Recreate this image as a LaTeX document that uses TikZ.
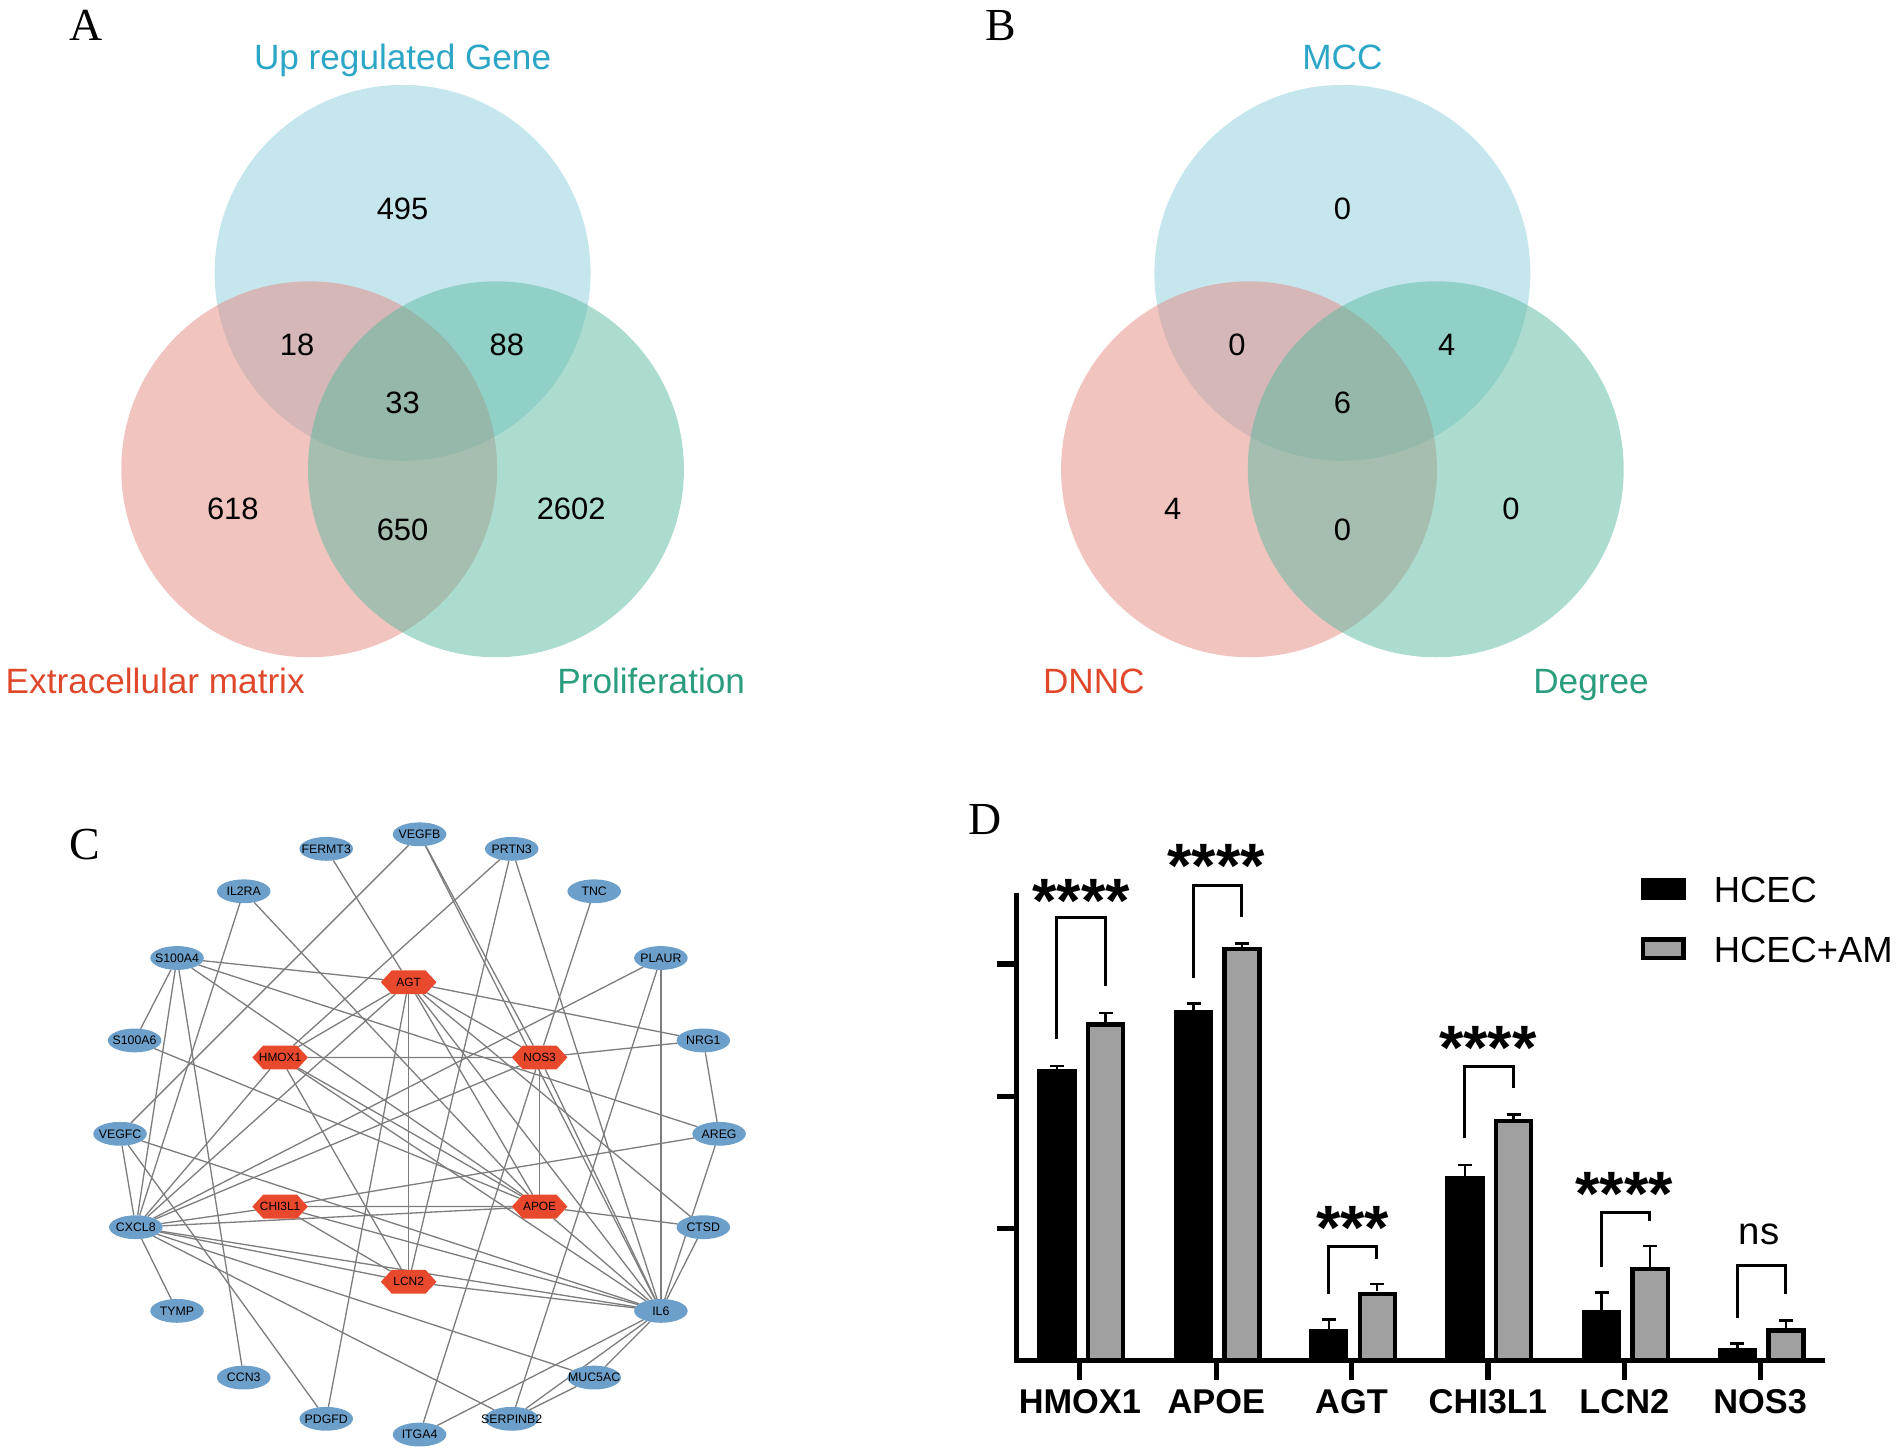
\documentclass[tikz,border=0pt]{standalone}
\usepackage{fontspec}
\setmainfont{Liberation Sans}
\newfontfamily\serifface{Liberation Serif}
\usetikzlibrary{shapes.geometric,shapes.symbols}
\pgfdeclarelayer{bg}
\pgfsetlayers{bg,main}
\definecolor{vblue}{RGB}{141,205,219}
\definecolor{vred}{RGB}{229,137,129}
\definecolor{vgreen}{RGB}{90,186,160}
\definecolor{tblue}{RGB}{44,166,198}
\definecolor{tred}{RGB}{224,72,44}
\definecolor{tgreen}{RGB}{42,157,126}
\definecolor{geneblue}{RGB}{108,160,202}
\definecolor{hubred}{RGB}{232,73,44}
\definecolor{edgegray}{RGB}{125,125,125}
\definecolor{bargray}{RGB}{160,160,160}
\newcommand{\zw}[1]{\makebox[0pt]{#1}}
\tikzset{
  panel/.style={font=\serifface\fontsize{22.7}{24}\selectfont, anchor=base, inner sep=0pt},
  vlabel/.style={font=\fontsize{17.4}{20}\selectfont, anchor=base, inner sep=0pt},
  vnum/.style={font=\fontsize{15.3}{17}\selectfont, inner sep=0pt},
  gene/.style={ellipse, fill=geneblue, minimum width=26.5pt, minimum height=11.8pt, inner sep=0pt, outer sep=0pt, font=\fontsize{6.1}{7}\selectfont},
  hub/.style={signal, signal to=west and east, signal pointer angle=95, fill=hubred, minimum width=27.5pt, minimum height=11.8pt, inner sep=0pt, outer sep=0pt, font=\fontsize{5.9}{7}\selectfont},
  edge/.style={draw=edgegray, line width=0.65pt},
  axis/.style={line width=2.6pt},
  errbar/.style={line width=1.2pt},
  bracket/.style={line width=1.5pt},
  stars/.style={font=\bfseries\fontsize{31}{32}\selectfont, anchor=base, inner sep=0pt},
  grp/.style={font=\bfseries\fontsize{17}{19}\selectfont, anchor=base, inner sep=0pt},
  legtext/.style={font=\fontsize{18}{20}\selectfont, anchor=base west, inner sep=0pt},
}
\begin{document}
\begin{tikzpicture}[x=0.6pt,y=-0.6pt]
\useasboundingbox (0,0) rectangle (1568.5,1200);

% ---------------- Panel A ----------------
\node[panel] (labA) at (71,33) {A};
\fill[vblue, fill opacity=0.5] (332,225) circle[radius=155];
\fill[vred, fill opacity=0.5] (255,387) circle[radius=155];
\fill[vgreen, fill opacity=0.5] (409,387) circle[radius=155];
\node[vlabel, text=tblue] (upA) at (332,57) {Up regulated Gene};
\node[vlabel, text=tred] (ecm) at (128,572) {Extracellular matrix};
\node[vlabel, text=tgreen] (prol) at (537,572) {Proliferation};
\node[vnum] (a1) at (332,172) {495};
\node[vnum] (a2) at (245,284) {18};
\node[vnum] (a3) at (418,284) {88};
\node[vnum] (a4) at (332,332) {33};
\node[vnum] (a5) at (192,420) {618};
\node[vnum] (a6) at (332,437) {650};
\node[vnum] (a7) at (471,420) {2602};

% ---------------- Panel B ----------------
\node[panel] (labB) at (825,33) {B};
\fill[vblue, fill opacity=0.5] (1107,225) circle[radius=155];
\fill[vred, fill opacity=0.5] (1030,387) circle[radius=155];
\fill[vgreen, fill opacity=0.5] (1184,387) circle[radius=155];
\node[vlabel, text=tblue] (mcc) at (1107,57) {MCC};
\node[vlabel, text=tred] (dnnc) at (902,572) {DNNC};
\node[vlabel, text=tgreen] (deg) at (1312,572) {Degree};
\node[vnum] (b1) at (1107,172) {0};
\node[vnum] (b2) at (1020,284) {0};
\node[vnum] (b3) at (1193,284) {4};
\node[vnum] (b4) at (1107,332) {6};
\node[vnum] (b5) at (967,420) {4};
\node[vnum] (b6) at (1107,437) {0};
\node[vnum] (b7) at (1246,420) {0};

% ---------------- Panel C ----------------
\node[panel] (labC) at (70,709) {C};
\node[gene] (VEGFB) at (346,688) {\zw{VEGFB}};
\node[gene] (FERMT3) at (269,700) {\zw{FERMT3}};
\node[gene] (PRTN3) at (422,700) {\zw{PRTN3}};
\node[gene] (IL2RA) at (201,735) {\zw{IL2RA}};
\node[gene] (TNC) at (490,735) {\zw{TNC}};
\node[gene] (S100A4) at (146,790) {\zw{S100A4}};
\node[gene] (PLAUR) at (545,790) {\zw{PLAUR}};
\node[gene] (S100A6) at (111,858) {\zw{S100A6}};
\node[gene] (NRG1) at (580,858) {\zw{NRG1}};
\node[gene] (VEGFC) at (99,935) {\zw{VEGFC}};
\node[gene] (AREG) at (593,935) {\zw{AREG}};
\node[gene] (CXCL8) at (112,1012) {\zw{CXCL8}};
\node[gene] (CTSD) at (580,1012) {\zw{CTSD}};
\node[gene] (IL6) at (545,1081) {\zw{IL6}};
\node[gene] (TYMP) at (146,1081) {\zw{TYMP}};
\node[gene] (CCN3) at (201,1136) {\zw{CCN3}};
\node[gene] (MUC5AC) at (490,1136) {\zw{MUC5AC}};
\node[gene] (PDGFD) at (269,1170) {\zw{PDGFD}};
\node[gene] (SERPINB2) at (422,1170) {\zw{SERPINB2}};
\node[gene] (ITGA4) at (346,1183) {\zw{ITGA4}};
\node[hub] (AGT) at (337,810) {\zw{AGT}};
\node[hub] (HMOX1) at (231,872) {\zw{HMOX1}};
\node[hub] (NOS3) at (445,872) {\zw{NOS3}};
\node[hub] (CHI3L1) at (231,995) {\zw{CHI3L1}};
\node[hub] (APOE) at (445,995) {\zw{APOE}};
\node[hub] (LCN2) at (337,1057) {\zw{LCN2}};
\begin{pgfonlayer}{bg}
\foreach \a/\b in {FERMT3/AGT, VEGFB/VEGFC, VEGFB/NOS3, VEGFB/IL6,
  PRTN3/HMOX1, PRTN3/LCN2, PRTN3/IL6, IL2RA/CXCL8, IL2RA/APOE, TNC/NOS3,
  S100A4/S100A6, S100A4/CXCL8, S100A4/CCN3, S100A4/AGT, S100A4/AREG, S100A4/APOE,
  PLAUR/CXCL8, PLAUR/SERPINB2, PLAUR/IL6, AGT/NRG1, NOS3/NRG1, NRG1/AREG,
  S100A6/APOE, VEGFC/CXCL8, VEGFC/PDGFD, VEGFC/IL6, CHI3L1/AREG, AREG/IL6,
  CTSD/IL6, APOE/CTSD, AGT/CTSD, NOS3/IL6, NOS3/CXCL8, NOS3/ITGA4, NOS3/APOE,
  HMOX1/NOS3, AGT/NOS3, AGT/HMOX1, AGT/LCN2, AGT/PDGFD, AGT/APOE, AGT/IL6,
  AGT/CXCL8, HMOX1/CXCL8, HMOX1/LCN2, HMOX1/APOE, HMOX1/IL6, CHI3L1/CXCL8,
  CHI3L1/APOE, CHI3L1/LCN2, CHI3L1/IL6, LCN2/CXCL8, LCN2/IL6, APOE/CXCL8,
  APOE/IL6, CXCL8/IL6, CXCL8/MUC5AC, CXCL8/SERPINB2, CXCL8/TYMP, IL6/MUC5AC,
  IL6/SERPINB2, IL6/ITGA4, MUC5AC/SERPINB2}
  \draw[edge] (\a) -- (\b);
\end{pgfonlayer}

% ---------------- Panel D ----------------
\node[panel] (labD) at (812,688) {D};
% bars: tick, black top, black err, gray top, gray err
\foreach \t/\bt/\be/\gt/\ge in {890.5/881.5/879/843/835.5, 1003/833/827.5/781/778,
  1114.5/1096/1088/1065/1059, 1227/969.5/960.5/922.7/919,
  1339.5/1080/1066/1044.7/1027.3, 1451.5/1111.4/1107.8/1095.4/1089}{
  \draw[errbar] (\t-18.75,\bt) -- (\t-18.75,\be) (\t-24.5,\be) -- (\t-13,\be);
  \draw[errbar] (\t+21.25,\gt) -- (\t+21.25,\ge) (\t+15.5,\ge) -- (\t+27,\ge);
  \fill[black] (\t-35,\bt) rectangle (\t-2.5,1122);
  \draw[line width=2.1pt, fill=bargray] (\t+6.8,\gt+1.8) rectangle (\t+35.7,1122);
  \draw[axis] (\t,1122) -- (\t,1138);
}
\draw[axis] (838,736) -- (838,1122) -- (1505,1122);
\foreach \y in {795,904,1013} \draw[axis] (822,\y) -- (838,\y);
% significance brackets
\foreach \t/\top/\lb/\rb in {890.5/756.7/857/812.7, 1003/730/806.3/756,
  1114.5/1028/1067/1038, 1227/879.7/938.6/897.5, 1339.5/999.6/1045/1006.7,
  1451.5/1043.3/1086.5/1067}
  \draw[bracket] (\t-19,\lb) -- (\t-19,\top) -- (\t+21,\top) -- (\t+21,\rb);
\node[stars] (s1) at (891.5,761) {****};
\node[stars] (s2) at (1003,732) {****};
\node[stars] (s3) at (1115.5,1030) {***};
\node[stars] (s4) at (1227,882) {****};
\node[stars] (s5) at (1339.5,1002) {****};
\node[font=\fontsize{19}{21}\selectfont, anchor=base, inner sep=0pt] (ns) at (1450.5,1026) {ns};
% group labels
\node[grp] (g1) at (890.5,1166) {HMOX1};
\node[grp] (g2) at (1003,1166) {APOE};
\node[grp] (g3) at (1114.5,1166) {AGT};
\node[grp] (g4) at (1227,1166) {CHI3L1};
\node[grp] (g5) at (1339.5,1166) {LCN2};
\node[grp] (g6) at (1451.5,1166) {NOS3};
% legend
\fill[black] (1353,724) rectangle (1390,742.5);
\draw[line width=2.1pt, fill=bargray] (1354.8,774.8) rectangle (1388.2,790.2);
\node[legtext] (l1) at (1413,744) {HCEC};
\node[legtext] (l2) at (1413,794) {HCEC+AM};
\end{tikzpicture}
\end{document}
